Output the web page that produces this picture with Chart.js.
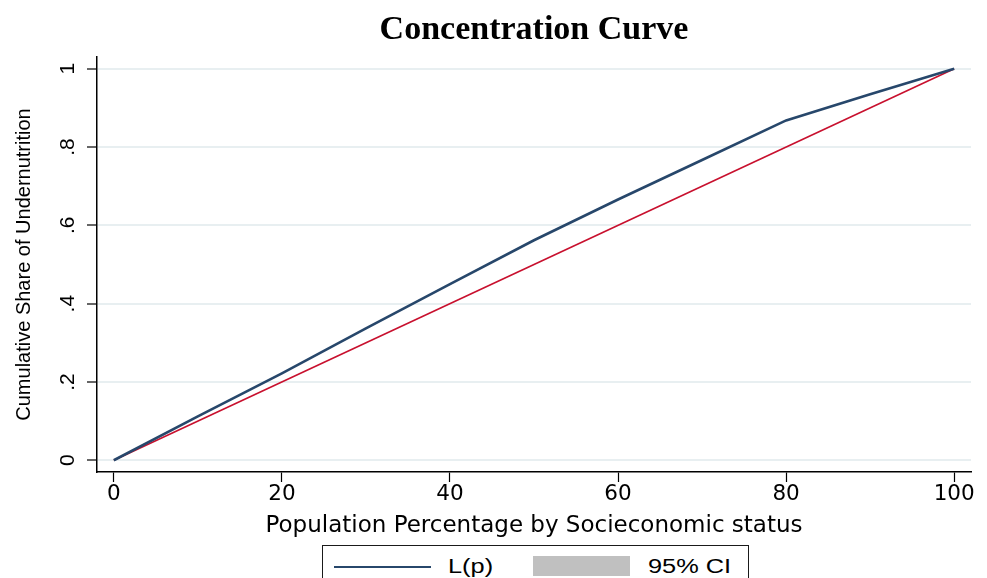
<!DOCTYPE html>
<html>
<head>
<meta charset="utf-8">
<title>Concentration Curve</title>
<script src="https://cdn.jsdelivr.net/npm/chart.js@4.4.1/dist/chart.umd.min.js"></script>
<style>
	body { margin: 0; background: #fff; }
	#wrap { position: relative; width: 987px; height: 578px; overflow: hidden; }
	#legend {
		position: absolute; left: 322px; top: 545px; width: 425px; height: 45px;
		border: 1px solid #1a1a1a; background: #fff;
		font-family: "Liberation Sans", Arial, sans-serif; font-size: 19.5px; color: #000;
	}
	#legend .item { position: absolute; top: 0; height: 42px; }
	#legend .txt { position: absolute; top: 9px; white-space: nowrap; transform: scaleX(1.3); transform-origin: left center; }
</style>
</head>
<body>
<div id="wrap">
	<canvas id="chart_cc" width="987" height="578"></canvas>
	<div id="legend"></div>
</div>
<script>
// population share (x) and cumulative share of undernutrition (y)
var popPct = [0, 10, 20, 30, 40, 50, 60, 70, 80, 90, 100];
var cumShare = [0, 0.112, 0.222, 0.337, 0.450, 0.562, 0.666, 0.767, 0.868, 0.935, 1];

// line of equality
var eqX = [0, 100];
var eqY = [0, 1];

var xTicks = [0, 20, 40, 60, 80, 100];
var yTicks = [0, 0.2, 0.4, 0.6, 0.8, 1];
var yTickLabels = ["0", ".2", ".4", ".6", ".8", "1"];

var curveLabel = "L(p)";
var ciLabel = "95% CI";

var navy = "#27476b";
var red = "#c8102e";
var ciGray = "#c0c0c0";

function toPoints(xs, ys){
	var out = [];
	for (var i = 0; i < xs.length; i++) out.push({x: xs[i], y: ys[i]});
	return out;
}

// Stata draws the y tick labels turned 90 degrees
var rotatedYTicks = {
	id: "rotatedYTicks",
	afterDraw: function(chart){
		var ctx = chart.ctx;
		var sc = chart.scales.y;
		ctx.save();
		ctx.font = '21px "Liberation Sans", Arial, sans-serif';
		ctx.fillStyle = "#000";
		ctx.textAlign = "center";
		ctx.textBaseline = "middle";
		sc.ticks.forEach(function(t, i){
			ctx.save();
			ctx.translate(sc.right - 29, sc.getPixelForValue(t.value));
			ctx.rotate(-Math.PI / 2);
			ctx.fillText(yTickLabels[i], 0, 0);
			ctx.restore();
		});
		ctx.restore();
	}
};

var datos = {
	type: "line",
	data: {
		datasets: [{
			label: curveLabel,
			data: toPoints(popPct, cumShare),
			borderColor: navy,
			borderWidth: 2.6,
			pointRadius: 0,
			tension: 0
		}, {
			label: "Line of equality",
			data: toPoints(eqX, eqY),
			borderColor: red,
			borderWidth: 1.6,
			pointRadius: 0,
			tension: 0
		}]
	},
	options: {
		responsive: false,
		animation: false,
		layout: { padding: { left: 0, right: 16, top: 0, bottom: 0 } },
		plugins: {
			legend: { display: false },
			tooltip: { enabled: false },
			title: {
				display: true,
				text: "Concentration Curve",
				fullSize: false,
				color: "#000",
				font: { family: '"Liberation Serif", "Times New Roman", serif', size: 34, weight: "bold" },
				padding: { top: 10, bottom: 6.2 }
			}
		},
		scales: {
			x: {
				type: "linear",
				min: -2,
				max: 102,
				afterBuildTicks: function(sc){ sc.ticks = xTicks.map(function(v){ return {value: v}; }); },
				afterFit: function(sc){ sc.height = 106; },
				grid: { drawOnChartArea: false, tickColor: "#000", tickLength: 10, tickWidth: 1.2 },
				border: { color: "#000", width: 1.5 },
				ticks: {
					color: "#000",
					padding: 0,
					maxRotation: 0,
					font: { family: '"DejaVu Sans", sans-serif', size: 21.5 }
				},
				title: {
					display: true,
					text: "Population Percentage by Socieconomic status",
					color: "#000",
					font: { family: '"DejaVu Sans", sans-serif', size: 23 },
					padding: { top: 0, bottom: 38 }
				}
			},
			y: {
				min: -0.03,
				max: 1.03,
				afterBuildTicks: function(sc){ sc.ticks = yTicks.map(function(v){ return {value: v}; }); },
				afterFit: function(sc){ sc.width = 97; },
				grid: { color: "#e8eff1", lineWidth: 2, tickColor: "#000", tickLength: 10, tickWidth: 1.2 },
				border: { color: "#000", width: 1.5 },
				ticks: { display: false },
				title: {
					display: true,
					text: "Cumulative Share of Undernutrition",
					color: "#000",
					font: { family: '"Liberation Sans", Arial, sans-serif', size: 20 },
					padding: { top: 12, bottom: 0 }
				}
			}
		}
	},
	plugins: [rotatedYTicks]
};

var canvas = document.getElementById("chart_cc").getContext("2d");
window.ccChart = new Chart(canvas, datos);

// legend box under the plot (Stata style)
var legendItems = [
	{ label: curveLabel, kind: "line", color: navy, left: 11, textLeft: 125 },
	{ label: ciLabel, kind: "area", color: ciGray, left: 210, textLeft: 325 }
];
var legend = document.getElementById("legend");
legendItems.forEach(function(it){
	var sw = document.createElement("div");
	sw.className = "item";
	sw.style.left = it.left + "px";
	sw.style.width = "97px";
	if (it.kind === "line") {
		sw.style.top = "20px";
		sw.style.height = "0";
		sw.style.borderTop = "2px solid " + it.color;
	} else {
		sw.style.top = "10px";
		sw.style.height = "20px";
		sw.style.background = it.color;
	}
	legend.appendChild(sw);
	var tx = document.createElement("span");
	tx.className = "txt";
	tx.style.left = it.textLeft + "px";
	tx.textContent = it.label;
	legend.appendChild(tx);
});
</script>
</body>
</html>
